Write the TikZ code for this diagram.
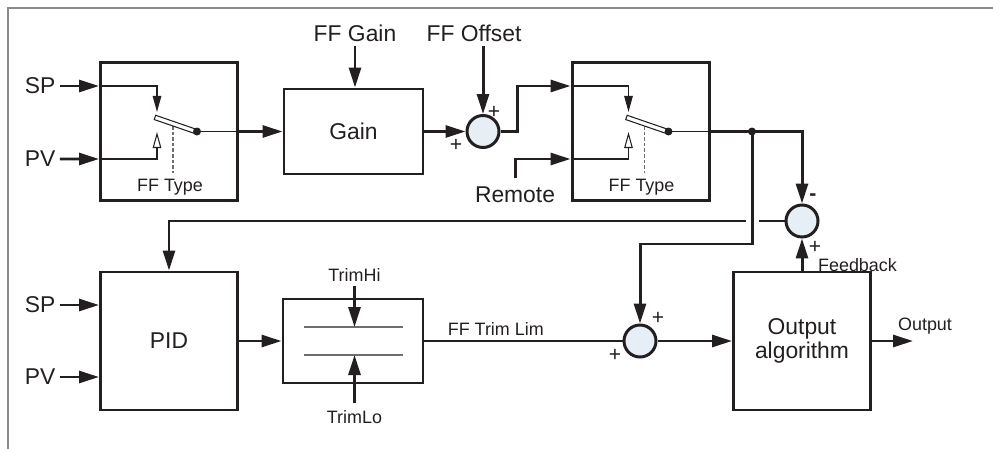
\documentclass[tikz,border=0pt]{standalone}
\usepackage{fontspec}
\setmainfont{Liberation Sans}
\usetikzlibrary{arrows.meta,calc}
\definecolor{inkblack}{HTML}{231F20}
\definecolor{framegrey}{HTML}{8A8A8A}
\definecolor{sumblue}{HTML}{E6EEF6}
\definecolor{wiregrey}{HTML}{6E6E6E}
\tikzset{
  bd/.style={align=center, font=\fontsize{13}{13.5}\selectfont, inner sep=2pt, text=inkblack},
  bd box/.style={bd, draw=inkblack, line width=1.7pt, minimum width=2.74cm, minimum height=2.76cm},
  bd sum/.style={circle, draw=inkblack, fill=sumblue, line width=1.7pt, minimum size=0.64cm, inner sep=0pt},
  bd arr/.style={-{Triangle[length=0.40cm, width=0.24cm]}, line width=1.7pt, inkblack},
  bd wire/.style={line width=1.7pt, inkblack},
  bd thin/.style={line width=0.6pt, inkblack},
  bd tip/.style={-{Triangle[length=0.32cm, width=0.17cm]}, bd thin},
  bd open/.style={-{Triangle[open, length=0.32cm, width=0.17cm]}, bd thin},
  bd lab/.style={bd, inner sep=2.5pt},
  bd small/.style={font=\fontsize{10.2}{12}\selectfont, text=inkblack, inner sep=1pt},
  bd sign/.style={font=\fontsize{12}{12}\selectfont, text=inkblack, inner sep=0pt},
}
\begin{document}
\begin{tikzpicture}[x=1cm, y=1cm]
  \useasboundingbox (0,0) rectangle (19.86,-8.98);
  \draw[framegrey, line width=0.6pt] (0.16,-8.98) -- (0.16,-0.16) -- (19.86,-0.16);
  % row 1: selector, gain, offset sum, second selector
  \node[bd box] (sw1) at (3.38,-2.63) {};
  \node[bd box, minimum width=2.78cm, minimum height=1.70cm] (gain) at (7.07,-2.63) {Gain};
  \node[bd sum] (sum1) at (9.66,-2.63) {};
  \node[bd box] (sw2) at (12.81,-2.63) {};
  \node[bd sum] (sumfb) at (16.04,-4.42) {};
  \coordinate (jn) at (15.04,-2.63);
  % switch symbol inside both selectors
  \foreach \s in {sw1,sw2}{
    \coordinate (\s-a) at ($(\s.west)+(0,0.91)$);
    \coordinate (\s-b) at ($(\s.west)+(0,-0.55)$);
    \coordinate (\s-o) at ($(\s)+(0.56,0)$);
    \draw[bd tip] (\s-a) -| ($(\s)+(-0.24,0.39)$);
    \draw[bd open] (\s-b) -| ($(\s)+(-0.24,-0.01)$);
    \draw[bd thin, dashed, dash pattern=on 2pt off 1.2pt, wiregrey] ($(\s)+(0.08,0.11)$) -- ($(\s)+(0.08,-0.83)$);
    \node[bd thin, draw, fill=white, minimum width=0.87cm, minimum height=0.09cm, inner sep=0pt, rotate=-19] (\s-lv) at ($(\s)+(0.13,0.14)$) {};
    \fill[inkblack] (\s-o) circle (0.08);
    \draw[bd thin] (\s-o) -- (\s.east);
    \node[bd small] (\s-t) at ($(\s)+(0.02,-1.11)$) {FF Type};
  }
  \node[bd lab] (sp1) at (0.80,-1.72) {SP};
  \node[bd lab] (pv1) at (0.80,-3.18) {PV};
  \node[bd lab] (ffg) at (7.10,-0.66) {FF Gain};
  \node[bd lab] (ffo) at (9.48,-0.66) {FF Offset};
  \node[bd lab] (rem) at (10.30,-3.90) {Remote};
  \node[bd sign] (p1) at (9.12,-2.90) {+};
  \node[bd sign] (p2) at (9.88,-2.24) {+};
  \foreach \a/\b in {sp1/sw1-a,pv1/sw1-b} \draw[bd arr] (\a) -- (\b);
  \draw[bd arr] (sw1.east) -- (gain.west);
  \draw[bd arr] (ffg.south) -- (ffg.south |- gain.north);
  \draw[bd arr] (gain.east) -- (sum1.west);
  \draw[bd arr] (sum1.north |- ffo.south) -- (sum1.north);
  \draw[bd arr] (sum1.east) -- ++(0.34,0) |- (sw2-a);
  \draw[bd arr] ([yshift=0.08cm]rem.north) |- (sw2-b);
  % row 2: PID, trim limits, sum, output algorithm
  \node[bd box] (pid) at (3.38,-6.82) {PID};
  \node[bd box, minimum width=2.80cm, minimum height=1.68cm] (lim) at (7.06,-6.82) {};
  \node[bd sum] (sum2) at (12.80,-6.82) {};
  \node[bd box] (oalg) at (16.04,-6.82) {Output\\algorithm};
  \draw[wiregrey, line width=0.6pt] ($(lim)+(-0.98,0.28)$) -- ($(lim)+(1.0,0.28)$);
  \draw[wiregrey, line width=0.6pt] ($(lim)+(-0.98,-0.28)$) -- ($(lim)+(1.0,-0.28)$);
  \coordinate (lim-h) at ($(lim)+(0,0.28)$);
  \coordinate (lim-l) at ($(lim)+(0,-0.28)$);
  \node[bd lab] (sp2) at (0.80,-6.10) {SP};
  \node[bd lab] (pv2) at (0.80,-7.54) {PV};
  \node[bd small] (thi) at (7.09,-5.50) {TrimHi};
  \node[bd small] (tlo) at (7.09,-8.34) {TrimLo};
  \coordinate (out) at (18.26,-6.82);
  \node[bd small] (outl) at (18.50,-6.52) {Output};
  \node[bd small, anchor=west] (fbl) at (16.32,-5.30) {Feedback};
  \node[bd sign] (p3) at (12.30,-7.10) {+};
  \node[bd sign] (p4) at (13.16,-6.36) {+};
  \node[bd sign] (m1) at (16.26,-3.94) {\textbf{-}};
  \node[bd sign] (p5) at (16.30,-4.94) {+};
  \foreach \a in {sp2,pv2} \draw[bd arr] (\a) -- (\a -| pid.west);
  \draw[bd arr] (pid.east) -- (lim.west);
  \draw[bd arr] ([yshift=-0.04cm]thi.south) -- (thi.south |- lim-h);
  \draw[bd arr] ([yshift=0.1cm]tlo.north) -- (tlo.north |- lim-l);
  \draw[bd wire] (lim.east) -- node[bd small, pos=0.36, above=1pt] (ftl) {FF Trim Lim} (sum2.west);
  \draw[bd arr] (sum2.east) -- (oalg.west);
  \draw[bd arr] (oalg.east) -- (out);
  \draw[bd arr] (oalg.north) -- (sumfb.south);
  % feedback and feed forward wiring
  \draw[bd arr] (sumfb.west) -| (pid.north);
  \draw[white, line width=0.26cm] ($(jn |- sumfb.west)+(0,0.12)$) -- ($(jn |- sumfb.west)+(0,-0.12)$);
  \draw[bd arr] (jn) -- ++(0,-2.25) -| (sum2.north);
  \draw[bd arr] (sw2.east) -- (jn) -| (sumfb.north);
  \fill[inkblack] (jn) circle (0.08);
\end{tikzpicture}
\end{document}
